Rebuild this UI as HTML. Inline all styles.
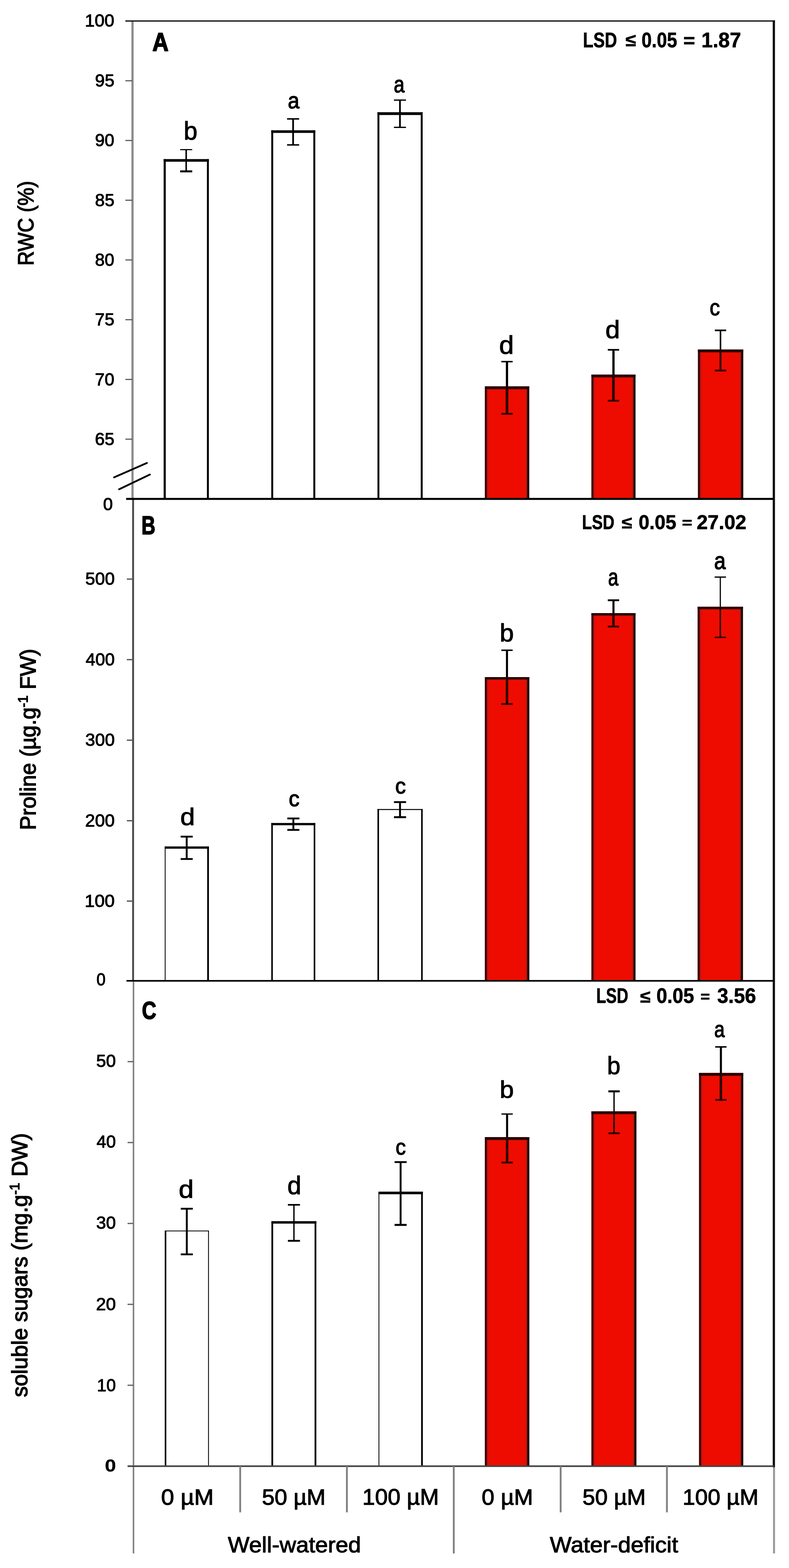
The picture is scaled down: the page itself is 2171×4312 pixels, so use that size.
<!DOCTYPE html>
<html lang="en">
<head>
<meta charset="utf-8">
<title>RWC, proline and soluble sugars under well-watered and water-deficit conditions</title>
<style>
html,body{margin:0;padding:0;background:#fff;}
body{width:2171px;height:4312px;overflow:hidden;}
svg{display:block;font-family:"Liberation Sans",sans-serif;}
text{white-space:pre;}
</style>
</head>
<body>
<svg width="2171" height="4312" viewBox="0 0 2171 4312">
<defs>
<linearGradient id="rg" x1="0" y1="0" x2="1" y2="0">
<stop offset="0" stop-color="#3c0404"/><stop offset="0.04" stop-color="#420606"/>
<stop offset="0.054" stop-color="#b8100c"/><stop offset="0.07" stop-color="#d8100c"/>
<stop offset="0.125" stop-color="#ee0c00"/><stop offset="0.895" stop-color="#ee0c00"/>
<stop offset="0.928" stop-color="#cc1a0c"/><stop offset="0.952" stop-color="#7a1208"/>
<stop offset="0.964" stop-color="#1c0000"/><stop offset="1" stop-color="#1c0000"/>
</linearGradient>
<linearGradient id="tg" x1="0" y1="0" x2="0" y2="1">
<stop offset="0" stop-color="#6a0a06"/><stop offset="1" stop-color="#ee0c00" stop-opacity="0"/>
</linearGradient>
</defs>
<rect x="0" y="0" width="2171" height="4312" fill="#ffffff"/>
<rect x="450.30" y="437.50" width="124.40" height="934.50" fill="#fff"/>
<rect x="450.30" y="437.50" width="5.80" height="934.50" fill="#000"/>
<rect x="569.40" y="437.50" width="5.30" height="934.50" fill="#000"/>
<rect x="450.30" y="437.50" width="124.40" height="7.20" fill="#000"/>
<line x1="512.3" y1="411.5" x2="512.3" y2="471.3" stroke="#000" stroke-width="4.2" stroke-linecap="butt"/>
<line x1="495.69999999999993" y1="411.5" x2="528.9" y2="411.5" stroke="#000" stroke-width="3" stroke-linecap="butt"/>
<line x1="495.69999999999993" y1="471.3" x2="528.9" y2="471.3" stroke="#000" stroke-width="5.5" stroke-linecap="butt"/>
<rect x="746.40" y="358.30" width="121.10" height="1013.70" fill="#fff"/>
<rect x="746.40" y="358.30" width="5.30" height="1013.70" fill="#000"/>
<rect x="862.20" y="358.30" width="5.30" height="1013.70" fill="#000"/>
<rect x="746.40" y="358.30" width="121.10" height="7.20" fill="#000"/>
<line x1="806.5" y1="327.0" x2="806.5" y2="398.6" stroke="#000" stroke-width="4.7" stroke-linecap="butt"/>
<line x1="789.9" y1="327.0" x2="823.1" y2="327.0" stroke="#000" stroke-width="4" stroke-linecap="butt"/>
<line x1="789.9" y1="398.6" x2="823.1" y2="398.6" stroke="#000" stroke-width="4" stroke-linecap="butt"/>
<rect x="1038.60" y="308.60" width="124.40" height="1063.40" fill="#fff"/>
<rect x="1038.60" y="308.60" width="5.30" height="1063.40" fill="#000"/>
<rect x="1157.70" y="308.60" width="5.30" height="1063.40" fill="#000"/>
<rect x="1038.60" y="308.60" width="124.40" height="7.70" fill="#000"/>
<line x1="1100.5" y1="275.3" x2="1100.5" y2="350.3" stroke="#000" stroke-width="4.7" stroke-linecap="butt"/>
<line x1="1083.9" y1="275.3" x2="1117.1" y2="275.3" stroke="#000" stroke-width="3.5" stroke-linecap="butt"/>
<line x1="1083.9" y1="350.3" x2="1117.1" y2="350.3" stroke="#000" stroke-width="3.5" stroke-linecap="butt"/>
<rect x="1334.00" y="1062.50" width="122.30" height="309.50" fill="url(#rg)"/>
<rect x="1334.00" y="1062.50" width="122.30" height="7.30" fill="#240000"/>
<rect x="1339.40" y="1069.80" width="111.60" height="3" fill="url(#tg)"/>
<line x1="1395.0" y1="994.5" x2="1395.0" y2="1063.5" stroke="#000" stroke-width="6.2" stroke-linecap="butt"/>
<line x1="1395.0" y1="1062.5" x2="1395.0" y2="1138.0" stroke="#2a0000" stroke-width="7.2" stroke-linecap="butt"/>
<line x1="1379.4" y1="994.5" x2="1410.6" y2="994.5" stroke="#000" stroke-width="4" stroke-linecap="butt"/>
<line x1="1379.4" y1="1138.0" x2="1410.6" y2="1138.0" stroke="#300000" stroke-width="5" stroke-linecap="butt"/>
<rect x="1627.20" y="1030.00" width="121.50" height="342.00" fill="url(#rg)"/>
<rect x="1627.20" y="1030.00" width="121.50" height="7.30" fill="#240000"/>
<rect x="1632.60" y="1037.30" width="110.80" height="3" fill="url(#tg)"/>
<line x1="1688.0" y1="962.0" x2="1688.0" y2="1031.0" stroke="#000" stroke-width="6.2" stroke-linecap="butt"/>
<line x1="1688.0" y1="1030.0" x2="1688.0" y2="1102.0" stroke="#2a0000" stroke-width="7.2" stroke-linecap="butt"/>
<line x1="1672.4" y1="962.0" x2="1703.6" y2="962.0" stroke="#000" stroke-width="4.5" stroke-linecap="butt"/>
<line x1="1672.4" y1="1102.0" x2="1703.6" y2="1102.0" stroke="#300000" stroke-width="5" stroke-linecap="butt"/>
<rect x="1920.30" y="961.00" width="124.90" height="411.00" fill="url(#rg)"/>
<rect x="1920.30" y="961.00" width="124.90" height="7.30" fill="#240000"/>
<rect x="1925.70" y="968.30" width="114.20" height="3" fill="url(#tg)"/>
<line x1="1982.5" y1="908.6" x2="1982.5" y2="962.0" stroke="#000" stroke-width="4.2" stroke-linecap="butt"/>
<line x1="1982.5" y1="961.0" x2="1982.5" y2="1019.0" stroke="#2a0000" stroke-width="5.2" stroke-linecap="butt"/>
<line x1="1966.9" y1="908.6" x2="1998.1" y2="908.6" stroke="#000" stroke-width="4.5" stroke-linecap="butt"/>
<line x1="1966.9" y1="1019.0" x2="1998.1" y2="1019.0" stroke="#300000" stroke-width="5" stroke-linecap="butt"/>
<rect x="453.30" y="2327.70" width="121.60" height="369.30" fill="#fff"/>
<rect x="453.30" y="2327.70" width="2.30" height="369.30" fill="#000"/>
<rect x="570.10" y="2327.70" width="4.80" height="369.30" fill="#000"/>
<rect x="453.30" y="2327.70" width="121.60" height="6.20" fill="#000"/>
<line x1="513.7" y1="2300.7" x2="513.7" y2="2362.3" stroke="#000" stroke-width="5.2" stroke-linecap="butt"/>
<line x1="497.1" y1="2300.7" x2="530.3000000000001" y2="2300.7" stroke="#000" stroke-width="5" stroke-linecap="butt"/>
<line x1="497.1" y1="2362.3" x2="530.3000000000001" y2="2362.3" stroke="#000" stroke-width="5" stroke-linecap="butt"/>
<rect x="746.40" y="2263.20" width="121.10" height="433.80" fill="#fff"/>
<rect x="746.40" y="2263.20" width="4.30" height="433.80" fill="#000"/>
<rect x="863.20" y="2263.20" width="4.30" height="433.80" fill="#000"/>
<rect x="746.40" y="2263.20" width="121.10" height="6.20" fill="#000"/>
<line x1="807.2" y1="2250.7" x2="807.2" y2="2282.3" stroke="#000" stroke-width="5.2" stroke-linecap="butt"/>
<line x1="790.6" y1="2250.7" x2="823.8000000000001" y2="2250.7" stroke="#000" stroke-width="5" stroke-linecap="butt"/>
<line x1="790.6" y1="2282.3" x2="823.8000000000001" y2="2282.3" stroke="#000" stroke-width="5" stroke-linecap="butt"/>
<rect x="1038.60" y="2224.80" width="124.50" height="472.20" fill="#fff"/>
<rect x="1038.60" y="2224.80" width="4.30" height="472.20" fill="#000"/>
<rect x="1158.80" y="2224.80" width="4.30" height="472.20" fill="#000"/>
<rect x="1038.60" y="2224.80" width="124.50" height="2.70" fill="#000"/>
<line x1="1100.7" y1="2205.7" x2="1100.7" y2="2247.3" stroke="#000" stroke-width="5.2" stroke-linecap="butt"/>
<line x1="1084.1000000000001" y1="2205.7" x2="1117.3" y2="2205.7" stroke="#000" stroke-width="5" stroke-linecap="butt"/>
<line x1="1084.1000000000001" y1="2247.3" x2="1117.3" y2="2247.3" stroke="#000" stroke-width="5.5" stroke-linecap="butt"/>
<rect x="1334.00" y="1862.00" width="122.50" height="835.00" fill="url(#rg)"/>
<rect x="1334.00" y="1862.00" width="122.50" height="6.30" fill="#240000"/>
<rect x="1339.40" y="1868.30" width="111.80" height="3" fill="url(#tg)"/>
<line x1="1395.0" y1="1788.2" x2="1395.0" y2="1863.0" stroke="#000" stroke-width="5.7" stroke-linecap="butt"/>
<line x1="1395.0" y1="1862.0" x2="1395.0" y2="1936.0" stroke="#2a0000" stroke-width="6.7" stroke-linecap="butt"/>
<line x1="1379.4" y1="1788.2" x2="1410.6" y2="1788.2" stroke="#000" stroke-width="4" stroke-linecap="butt"/>
<line x1="1379.4" y1="1936.0" x2="1410.6" y2="1936.0" stroke="#300000" stroke-width="5" stroke-linecap="butt"/>
<rect x="1627.20" y="1686.00" width="121.50" height="1011.00" fill="url(#rg)"/>
<rect x="1627.20" y="1686.00" width="121.50" height="6.30" fill="#240000"/>
<rect x="1632.60" y="1692.30" width="110.80" height="3" fill="url(#tg)"/>
<line x1="1688.0" y1="1650.7" x2="1688.0" y2="1687.0" stroke="#000" stroke-width="5.7" stroke-linecap="butt"/>
<line x1="1688.0" y1="1686.0" x2="1688.0" y2="1723.0" stroke="#2a0000" stroke-width="6.7" stroke-linecap="butt"/>
<line x1="1672.4" y1="1650.7" x2="1703.6" y2="1650.7" stroke="#000" stroke-width="5" stroke-linecap="butt"/>
<line x1="1672.4" y1="1723.0" x2="1703.6" y2="1723.0" stroke="#300000" stroke-width="5" stroke-linecap="butt"/>
<rect x="1919.50" y="1668.60" width="124.90" height="1028.40" fill="url(#rg)"/>
<rect x="1919.50" y="1668.60" width="124.90" height="6.30" fill="#240000"/>
<rect x="1924.90" y="1674.90" width="114.20" height="3" fill="url(#tg)"/>
<line x1="1982.0" y1="1587.0" x2="1982.0" y2="1669.6" stroke="#000" stroke-width="3.2" stroke-linecap="butt"/>
<line x1="1982.0" y1="1668.6" x2="1982.0" y2="1752.7" stroke="#2a0000" stroke-width="4.2" stroke-linecap="butt"/>
<line x1="1966.4" y1="1587.0" x2="1997.6" y2="1587.0" stroke="#000" stroke-width="3.5" stroke-linecap="butt"/>
<line x1="1966.4" y1="1752.7" x2="1997.6" y2="1752.7" stroke="#300000" stroke-width="4" stroke-linecap="butt"/>
<rect x="453.30" y="3384.00" width="121.60" height="648.00" fill="#fff"/>
<rect x="453.30" y="3384.00" width="4.30" height="648.00" fill="#000"/>
<rect x="572.60" y="3384.00" width="2.30" height="648.00" fill="#000"/>
<rect x="453.30" y="3384.00" width="121.60" height="2.20" fill="#000"/>
<line x1="514.0" y1="3324.0" x2="514.0" y2="3449.4" stroke="#000" stroke-width="5.2" stroke-linecap="butt"/>
<line x1="497.4" y1="3324.0" x2="530.6" y2="3324.0" stroke="#000" stroke-width="5" stroke-linecap="butt"/>
<line x1="497.4" y1="3449.4" x2="530.6" y2="3449.4" stroke="#000" stroke-width="5" stroke-linecap="butt"/>
<rect x="746.80" y="3358.20" width="123.60" height="673.80" fill="#fff"/>
<rect x="746.80" y="3358.20" width="4.80" height="673.80" fill="#000"/>
<rect x="865.60" y="3358.20" width="4.80" height="673.80" fill="#000"/>
<rect x="746.80" y="3358.20" width="123.60" height="6.70" fill="#000"/>
<line x1="808.8" y1="3313.2" x2="808.8" y2="3412.3" stroke="#000" stroke-width="3.7" stroke-linecap="butt"/>
<line x1="792.1999999999999" y1="3313.2" x2="825.4" y2="3313.2" stroke="#000" stroke-width="4.5" stroke-linecap="butt"/>
<line x1="792.1999999999999" y1="3412.3" x2="825.4" y2="3412.3" stroke="#000" stroke-width="5" stroke-linecap="butt"/>
<rect x="1041.50" y="3277.00" width="122.00" height="755.00" fill="#fff"/>
<rect x="1041.50" y="3277.00" width="2.30" height="755.00" fill="#000"/>
<rect x="1158.70" y="3277.00" width="4.80" height="755.00" fill="#000"/>
<rect x="1041.50" y="3277.00" width="122.00" height="7.20" fill="#000"/>
<line x1="1102.3" y1="3195.8" x2="1102.3" y2="3368.5" stroke="#000" stroke-width="5.2" stroke-linecap="butt"/>
<line x1="1085.7" y1="3195.8" x2="1118.8999999999999" y2="3195.8" stroke="#000" stroke-width="5" stroke-linecap="butt"/>
<line x1="1085.7" y1="3368.5" x2="1118.8999999999999" y2="3368.5" stroke="#000" stroke-width="5.5" stroke-linecap="butt"/>
<rect x="1334.00" y="3127.00" width="122.50" height="905.00" fill="url(#rg)"/>
<rect x="1334.00" y="3127.00" width="122.50" height="7.30" fill="#240000"/>
<rect x="1339.40" y="3134.30" width="111.80" height="3" fill="url(#tg)"/>
<line x1="1395.3" y1="3063.6" x2="1395.3" y2="3128.0" stroke="#000" stroke-width="5.7" stroke-linecap="butt"/>
<line x1="1395.3" y1="3127.0" x2="1395.3" y2="3197.0" stroke="#2a0000" stroke-width="6.7" stroke-linecap="butt"/>
<line x1="1379.7" y1="3063.6" x2="1410.8999999999999" y2="3063.6" stroke="#000" stroke-width="3.5" stroke-linecap="butt"/>
<line x1="1379.7" y1="3197.0" x2="1410.8999999999999" y2="3197.0" stroke="#300000" stroke-width="5" stroke-linecap="butt"/>
<rect x="1627.20" y="3056.10" width="124.00" height="975.90" fill="url(#rg)"/>
<rect x="1627.20" y="3056.10" width="124.00" height="7.30" fill="#240000"/>
<rect x="1632.60" y="3063.40" width="113.30" height="3" fill="url(#tg)"/>
<line x1="1689.6" y1="3001.2" x2="1689.6" y2="3057.1" stroke="#000" stroke-width="3.7" stroke-linecap="butt"/>
<line x1="1689.6" y1="3056.1" x2="1689.6" y2="3116.5" stroke="#2a0000" stroke-width="4.7" stroke-linecap="butt"/>
<line x1="1674.0" y1="3001.2" x2="1705.1999999999998" y2="3001.2" stroke="#000" stroke-width="5.5" stroke-linecap="butt"/>
<line x1="1674.0" y1="3116.5" x2="1705.1999999999998" y2="3116.5" stroke="#300000" stroke-width="5" stroke-linecap="butt"/>
<rect x="1923.30" y="2950.60" width="121.90" height="1081.40" fill="url(#rg)"/>
<rect x="1923.30" y="2950.60" width="121.90" height="7.30" fill="#240000"/>
<rect x="1928.70" y="2957.90" width="111.20" height="3" fill="url(#tg)"/>
<line x1="1983.6" y1="2879.0" x2="1983.6" y2="2951.6" stroke="#000" stroke-width="5.7" stroke-linecap="butt"/>
<line x1="1983.6" y1="2950.6" x2="1983.6" y2="3024.7" stroke="#2a0000" stroke-width="6.7" stroke-linecap="butt"/>
<line x1="1968.0" y1="2879.0" x2="1999.1999999999998" y2="2879.0" stroke="#000" stroke-width="4" stroke-linecap="butt"/>
<line x1="1968.0" y1="3024.7" x2="1999.1999999999998" y2="3024.7" stroke="#300000" stroke-width="5" stroke-linecap="butt"/>
<line x1="364.6" y1="57.8" x2="364.6" y2="1372.0" stroke="#8a8a8a" stroke-width="6" stroke-linecap="butt"/>
<line x1="366.2" y1="1372.0" x2="366.2" y2="2697.0" stroke="#4a4a4a" stroke-width="5.2" stroke-linecap="butt"/>
<line x1="367.3" y1="2697.0" x2="367.3" y2="4272.0" stroke="#808080" stroke-width="4.2" stroke-linecap="butt"/>
<line x1="345" y1="57.8" x2="2132.3" y2="57.8" stroke="#111" stroke-width="3.6" stroke-linecap="butt"/>
<line x1="2129.3" y1="55.8" x2="2129.3" y2="4035.0" stroke="#0a0a0a" stroke-width="6.2" stroke-linecap="butt"/>
<line x1="2129.8" y1="4035.0" x2="2129.8" y2="4272.0" stroke="#9a9a9a" stroke-width="5.5" stroke-linecap="butt"/>
<line x1="347" y1="1372.0" x2="2129.3" y2="1372.0" stroke="#000" stroke-width="5.6" stroke-linecap="butt"/>
<line x1="348" y1="2697.2" x2="2129.3" y2="2697.2" stroke="#050505" stroke-width="4.6" stroke-linecap="butt"/>
<line x1="368" y1="2700.3" x2="2126.3" y2="2700.3" stroke="#b5b5b5" stroke-width="1.6" stroke-linecap="butt"/>
<line x1="351" y1="4032.0" x2="2129.3" y2="4032.0" stroke="#444" stroke-width="4.6" stroke-linecap="butt"/>
<line x1="345" y1="1207.725" x2="364" y2="1207.725" stroke="#555" stroke-width="3" stroke-linecap="butt"/>
<line x1="345" y1="1043.45" x2="364" y2="1043.45" stroke="#555" stroke-width="3" stroke-linecap="butt"/>
<line x1="345" y1="879.175" x2="364" y2="879.175" stroke="#555" stroke-width="3" stroke-linecap="butt"/>
<line x1="345" y1="714.9" x2="364" y2="714.9" stroke="#555" stroke-width="3" stroke-linecap="butt"/>
<line x1="345" y1="550.625" x2="364" y2="550.625" stroke="#555" stroke-width="3" stroke-linecap="butt"/>
<line x1="345" y1="386.35" x2="364" y2="386.35" stroke="#555" stroke-width="3" stroke-linecap="butt"/>
<line x1="345" y1="222.075" x2="364" y2="222.075" stroke="#555" stroke-width="3" stroke-linecap="butt"/>
<line x1="349" y1="1592.5" x2="366" y2="1592.5" stroke="#555" stroke-width="3.5" stroke-linecap="butt"/>
<line x1="349" y1="1814" x2="366" y2="1814" stroke="#555" stroke-width="3.5" stroke-linecap="butt"/>
<line x1="349" y1="2035.5" x2="366" y2="2035.5" stroke="#555" stroke-width="3.5" stroke-linecap="butt"/>
<line x1="349" y1="2257" x2="366" y2="2257" stroke="#555" stroke-width="3.5" stroke-linecap="butt"/>
<line x1="349" y1="2478" x2="366" y2="2478" stroke="#555" stroke-width="3.5" stroke-linecap="butt"/>
<line x1="351" y1="3809.5" x2="367" y2="3809.5" stroke="#666" stroke-width="3.5" stroke-linecap="butt"/>
<line x1="351" y1="3587.0" x2="367" y2="3587.0" stroke="#666" stroke-width="3.5" stroke-linecap="butt"/>
<line x1="351" y1="3364.5" x2="367" y2="3364.5" stroke="#666" stroke-width="3.5" stroke-linecap="butt"/>
<line x1="351" y1="3142.0" x2="367" y2="3142.0" stroke="#666" stroke-width="3.5" stroke-linecap="butt"/>
<line x1="351" y1="2919.5" x2="367" y2="2919.5" stroke="#666" stroke-width="3.5" stroke-linecap="butt"/>
<line x1="313.9" y1="1312.7" x2="404.1" y2="1273.2" stroke="#000" stroke-width="5" stroke-linecap="round"/>
<line x1="327.8" y1="1345.4" x2="412.4" y2="1305.1" stroke="#000" stroke-width="5" stroke-linecap="round"/>
<line x1="660.9" y1="4032.0" x2="660.9" y2="4159" stroke="#808080" stroke-width="5" stroke-linecap="butt"/>
<line x1="954.5" y1="4032.0" x2="954.5" y2="4159" stroke="#808080" stroke-width="5" stroke-linecap="butt"/>
<line x1="1248.6" y1="4032.0" x2="1248.6" y2="4272.0" stroke="#808080" stroke-width="5" stroke-linecap="butt"/>
<line x1="1542.7" y1="4032.0" x2="1542.7" y2="4159" stroke="#808080" stroke-width="5" stroke-linecap="butt"/>
<line x1="1835.1" y1="4032.0" x2="1835.1" y2="4159" stroke="#808080" stroke-width="5" stroke-linecap="butt"/>
<text transform="translate(233.61,72.76) scale(1.0115,1.0000)" font-size="48" fill="#000" stroke="#000" stroke-width="1.5" stroke-linejoin="round">100</text>
<text transform="translate(261.60,237.56) scale(0.9959,1.0000)" font-size="48" fill="#000" stroke="#000" stroke-width="1.5" stroke-linejoin="round">95</text>
<text transform="translate(261.61,402.26) scale(0.9911,1.0000)" font-size="48" fill="#000" stroke="#000" stroke-width="1.5" stroke-linejoin="round">90</text>
<text transform="translate(261.60,566.56) scale(0.9959,1.0000)" font-size="48" fill="#000" stroke="#000" stroke-width="1.5" stroke-linejoin="round">85</text>
<text transform="translate(261.61,731.16) scale(0.9911,1.0000)" font-size="48" fill="#000" stroke="#000" stroke-width="1.5" stroke-linejoin="round">80</text>
<text transform="translate(261.35,895.32) scale(1.0008,1.0000)" font-size="48" fill="#000" stroke="#000" stroke-width="1.5" stroke-linejoin="round">75</text>
<text transform="translate(261.36,1060.06) scale(0.9959,1.0000)" font-size="48" fill="#000" stroke="#000" stroke-width="1.5" stroke-linejoin="round">70</text>
<text transform="translate(261.35,1223.76) scale(1.0008,1.0000)" font-size="48" fill="#000" stroke="#000" stroke-width="1.5" stroke-linejoin="round">65</text>
<text transform="translate(283.83,1402.56) scale(0.9983,1.0000)" font-size="48" fill="#000" stroke="#000" stroke-width="1.5" stroke-linejoin="round">0</text>
<text transform="translate(234.81,1608.16) scale(1.0089,1.0000)" font-size="48" fill="#000" stroke="#000" stroke-width="1.5" stroke-linejoin="round">500</text>
<text transform="translate(235.79,1830.26) scale(0.9964,1.0000)" font-size="48" fill="#000" stroke="#000" stroke-width="1.5" stroke-linejoin="round">400</text>
<text transform="translate(234.81,2050.56) scale(1.0089,1.0000)" font-size="48" fill="#000" stroke="#000" stroke-width="1.5" stroke-linejoin="round">300</text>
<text transform="translate(234.31,2272.56) scale(1.0153,1.0000)" font-size="48" fill="#000" stroke="#000" stroke-width="1.5" stroke-linejoin="round">200</text>
<text transform="translate(233.04,2493.56) scale(1.0316,1.0000)" font-size="48" fill="#000" stroke="#000" stroke-width="1.5" stroke-linejoin="round">100</text>
<text transform="translate(265.46,2710.16) scale(0.9332,1.0000)" font-size="48" fill="#000" stroke="#000" stroke-width="1.5" stroke-linejoin="round">0</text>
<text transform="translate(264.81,2934.06) scale(1.0105,1.0000)" font-size="48" fill="#000" stroke="#000" stroke-width="1.5" stroke-linejoin="round">50</text>
<text transform="translate(265.80,3156.36) scale(0.9913,1.0000)" font-size="48" fill="#000" stroke="#000" stroke-width="1.5" stroke-linejoin="round">40</text>
<text transform="translate(264.81,3379.06) scale(1.0105,1.0000)" font-size="48" fill="#000" stroke="#000" stroke-width="1.5" stroke-linejoin="round">30</text>
<text transform="translate(264.30,3603.06) scale(1.0203,1.0000)" font-size="48" fill="#000" stroke="#000" stroke-width="1.5" stroke-linejoin="round">20</text>
<text transform="translate(266.75,3825.56) scale(0.9729,1.0000)" font-size="48" fill="#000" stroke="#000" stroke-width="1.5" stroke-linejoin="round">10</text>
<text transform="translate(288.49,4047.16) scale(1.1535,1.0000)" font-size="48" font-weight="bold" fill="#000" stroke="#000" stroke-width="0.4" stroke-linejoin="round">0</text>
<text transform="translate(505.59,384.10) scale(0.9546,0.9888)" font-size="71" fill="#000" stroke="#000" stroke-width="1.6" stroke-linejoin="round">b</text>
<text transform="translate(792.02,297.86) scale(0.8040,0.8963)" font-size="71" fill="#000" stroke="#000" stroke-width="2.2" stroke-linejoin="round">a</text>
<text transform="translate(1083.57,254.46) scale(0.7494,0.9040)" font-size="71" fill="#000" stroke="#000" stroke-width="2.2" stroke-linejoin="round">a</text>
<text transform="translate(1373.40,972.60) scale(1.0203,0.9907)" font-size="71" fill="#000" stroke="#000" stroke-width="1.6" stroke-linejoin="round">d</text>
<text transform="translate(1665.72,929.71) scale(1.0141,0.9677)" font-size="71" fill="#000" stroke="#000" stroke-width="1.6" stroke-linejoin="round">d</text>
<text transform="translate(1952.65,866.87) scale(0.7933,0.8809)" font-size="71" fill="#000" stroke="#000" stroke-width="2.2" stroke-linejoin="round">c</text>
<text transform="translate(495.90,2268.84) scale(1.0203,0.9351)" font-size="71" fill="#000" stroke="#000" stroke-width="1.6" stroke-linejoin="round">d</text>
<text transform="translate(794.44,2216.59) scale(0.8321,0.8630)" font-size="71" fill="#000" stroke="#000" stroke-width="2.2" stroke-linejoin="round">c</text>
<text transform="translate(1087.57,2182.39) scale(0.8192,0.8528)" font-size="71" fill="#000" stroke="#000" stroke-width="2.2" stroke-linejoin="round">c</text>
<text transform="translate(1375.06,1764.31) scale(0.9828,0.9677)" font-size="71" fill="#000" stroke="#000" stroke-width="1.6" stroke-linejoin="round">b</text>
<text transform="translate(1673.17,1609.83) scale(0.7138,0.9373)" font-size="71" fill="#000" stroke="#000" stroke-width="2.2" stroke-linejoin="round">a</text>
<text transform="translate(1965.02,1565.24) scale(0.8040,0.9347)" font-size="71" fill="#000" stroke="#000" stroke-width="2.2" stroke-linejoin="round">a</text>
<text transform="translate(491.74,3293.91) scale(1.0423,0.9677)" font-size="71" fill="#000" stroke="#000" stroke-width="1.6" stroke-linejoin="round">d</text>
<text transform="translate(790.85,3284.30) scale(0.9671,0.9830)" font-size="71" fill="#000" stroke="#000" stroke-width="1.6" stroke-linejoin="round">d</text>
<text transform="translate(1088.45,3174.89) scale(0.7933,0.8604)" font-size="71" fill="#000" stroke="#000" stroke-width="2.2" stroke-linejoin="round">c</text>
<text transform="translate(1375.06,3018.83) scale(0.9828,0.9505)" font-size="71" fill="#000" stroke="#000" stroke-width="1.6" stroke-linejoin="round">b</text>
<text transform="translate(1670.51,2954.32) scale(0.9296,0.9543)" font-size="71" fill="#000" stroke="#000" stroke-width="1.6" stroke-linejoin="round">b</text>
<text transform="translate(1965.23,2851.87) scale(0.7302,0.8809)" font-size="71" fill="#000" stroke="#000" stroke-width="2.2" stroke-linejoin="round">a</text>
<text transform="translate(419.26,139.90) scale(1.0299,1.1715)" font-size="60" font-weight="bold" fill="#000" stroke="#000" stroke-width="2.2" stroke-linejoin="round">A</text>
<text transform="translate(389.16,1469.30) scale(0.8825,1.1739)" font-size="60" font-weight="bold" fill="#000" stroke="#000" stroke-width="2.2" stroke-linejoin="round">B</text>
<text transform="translate(390.61,2801.82) scale(0.9109,1.1408)" font-size="60" font-weight="bold" fill="#000" stroke="#000" stroke-width="2.2" stroke-linejoin="round">C</text>
<text font-weight="bold" fill="#000" stroke="#000" stroke-width="1.0" stroke-linejoin="round"><tspan x="1603.95" y="129.93" font-size="57.20" textLength="93.94" lengthAdjust="spacingAndGlyphs">LSD</tspan><tspan x="1706.60" y="126.50" font-size="48.82" textLength="43.65" lengthAdjust="spacingAndGlyphs"> ≤</tspan><tspan x="1751.41" y="129.93" font-size="57.20" textLength="111.80" lengthAdjust="spacingAndGlyphs"> 0.05</tspan><tspan x="1864.76" y="130.18" font-size="51.32" textLength="47.78" lengthAdjust="spacingAndGlyphs"> =</tspan><tspan x="1914.43" y="129.93" font-size="57.20" textLength="124.77" lengthAdjust="spacingAndGlyphs"> 1.87</tspan></text>
<text font-weight="bold" fill="#000" stroke="#000" stroke-width="1.0" stroke-linejoin="round"><tspan x="1601.60" y="1455.44" font-size="55.79" textLength="89.19" lengthAdjust="spacingAndGlyphs">LSD</tspan><tspan x="1696.24" y="1452.50" font-size="46.46" textLength="42.99" lengthAdjust="spacingAndGlyphs"> ≤</tspan><tspan x="1742.48" y="1455.44" font-size="55.79" textLength="118.31" lengthAdjust="spacingAndGlyphs"> 0.05</tspan><tspan x="1862.98" y="1451.03" font-size="39.47" textLength="41.81" lengthAdjust="spacingAndGlyphs"> =</tspan><tspan x="1901.79" y="1455.44" font-size="55.79" textLength="151.91" lengthAdjust="spacingAndGlyphs"> 27.02</tspan></text>
<text font-weight="bold" fill="#000" stroke="#000" stroke-width="1.0" stroke-linejoin="round"><tspan x="1640.64" y="2757.94" font-size="56.50" textLength="88.13" lengthAdjust="spacingAndGlyphs">LSD</tspan><tspan x="1747.14" y="2756.50" font-size="48.03" textLength="42.99" lengthAdjust="spacingAndGlyphs"> ≤</tspan><tspan x="1791.48" y="2757.94" font-size="56.50" textLength="118.31" lengthAdjust="spacingAndGlyphs"> 0.05</tspan><tspan x="1915.24" y="2754.71" font-size="40.79" textLength="38.40" lengthAdjust="spacingAndGlyphs"> =</tspan><tspan x="1958.25" y="2757.94" font-size="56.50" textLength="122.12" lengthAdjust="spacingAndGlyphs"> 3.56</tspan></text>
<text transform="translate(443.22,4138.30) scale(1.0415,1.0000)" font-size="62" fill="#000" stroke="#000" stroke-width="1.6" stroke-linejoin="round">0 µM</text>
<text transform="translate(720.80,4138.30) scale(1.0093,1.0000)" font-size="62" fill="#000" stroke="#000" stroke-width="1.6" stroke-linejoin="round">50 µM</text>
<text transform="translate(997.09,4138.30) scale(1.0126,1.0000)" font-size="62" fill="#000" stroke="#000" stroke-width="1.6" stroke-linejoin="round">100 µM</text>
<text transform="translate(1325.27,4138.30) scale(1.0187,1.0000)" font-size="62" fill="#000" stroke="#000" stroke-width="1.6" stroke-linejoin="round">0 µM</text>
<text transform="translate(1602.81,4138.30) scale(1.0033,1.0000)" font-size="62" fill="#000" stroke="#000" stroke-width="1.6" stroke-linejoin="round">50 µM</text>
<text transform="translate(1878.13,4138.30) scale(1.0050,1.0000)" font-size="62" fill="#000" stroke="#000" stroke-width="1.6" stroke-linejoin="round">100 µM</text>
<text transform="translate(626.99,4268.50) scale(1.0160,1.0000)" font-size="62" fill="#000" stroke="#000" stroke-width="1.6" stroke-linejoin="round">Well-watered</text>
<text transform="translate(1512.98,4268.50) scale(1.0214,1.0000)" font-size="62" fill="#000" stroke="#000" stroke-width="1.6" stroke-linejoin="round">Water-deficit</text>
<text transform="translate(91.60,730.43) rotate(-90) scale(0.9160,1)" font-size="60.5" fill="#000" stroke="#000" stroke-width="2.0">RWC (%)</text>
<text transform="translate(97.60,2282.75) rotate(-90) scale(0.9808,1)" font-size="60.5" fill="#000" stroke="#000" stroke-width="2.0">Proline (µg.g<tspan font-size="37.5" dy="-21.8">-1</tspan><tspan dy="21.8"> FW)</tspan></text>
<text transform="translate(75.20,3842.30) rotate(-90) scale(0.9834,1)" font-size="61" fill="#000" stroke="#000" stroke-width="2.0">soluble sugars (mg.g<tspan font-size="37.8" dy="-22.0">-1</tspan><tspan dy="22.0"> DW)</tspan></text>
</svg>
</body>
</html>
